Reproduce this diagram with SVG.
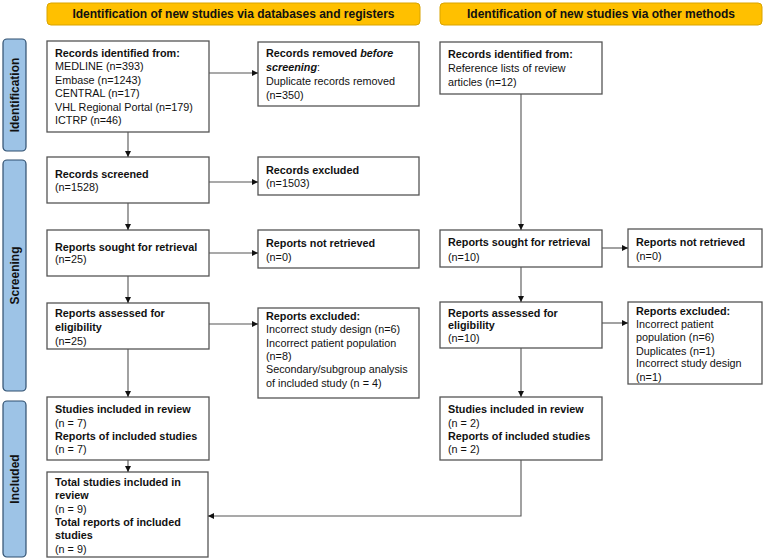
<svg xmlns="http://www.w3.org/2000/svg" width="764" height="560" viewBox="0 0 764 560">
<style>
text{font-family:"Liberation Sans",Arial,sans-serif;font-size:10.8px;fill:#111}
.b{font-weight:bold}
.hd{font-weight:bold;font-size:12px;text-anchor:middle}
.sd{font-weight:bold;font-size:12px;text-anchor:middle}
.box{fill:#fff;stroke:#555;stroke-width:1.3}
.hdr{fill:#FFC000;stroke:#D9A400;stroke-width:1}
.side{fill:#9DC3E6;stroke:#2F4F6F;stroke-width:1.2}
.c{fill:none;stroke:#555;stroke-width:1.1}
</style>
<defs>
<marker id="ah" viewBox="0 0 10 10" refX="10" refY="5" markerWidth="6" markerHeight="6" orient="auto" markerUnits="userSpaceOnUse">
<path d="M0,0 L10,5 L0,10 z" fill="#111"/>
</marker>
</defs>
<rect width="764" height="560" fill="#fff"/>

<g id="header1"><rect class="hdr" x="47" y="3" width="373" height="22" rx="4"/><text class="hd" x="233.5" y="18">Identification of new studies via databases and registers</text></g>
<g id="header2"><rect class="hdr" x="440" y="3" width="322" height="22" rx="4"/><text class="hd" x="601" y="18">Identification of new studies via other methods</text></g>

<g id="side-identification"><rect class="side" x="3" y="39" width="23" height="112" rx="4"/><text class="sd" transform="translate(19,95) rotate(-90)">Identification</text></g>
<g id="side-screening"><rect class="side" x="3" y="160" width="23" height="231" rx="4"/><text class="sd" transform="translate(19,275.5) rotate(-90)">Screening</text></g>
<g id="side-included"><rect class="side" x="3" y="401" width="23" height="156" rx="4"/><text class="sd" transform="translate(19,479) rotate(-90)">Included</text></g>

<g id="records-identified"><rect class="box" x="47" y="41" width="162" height="91"/>
<text x="55" y="57" class="b">Records identified from:</text>
<text x="55" y="70">MEDLINE (n=393)</text>
<text x="55" y="83.5">Embase (n=1243)</text>
<text x="55" y="97">CENTRAL (n=17)</text>
<text x="55" y="110.5">VHL Regional Portal (n=179)</text>
<text x="55" y="124">ICTRP (n=46)</text></g>

<g id="records-removed"><rect class="box" x="258" y="42" width="161" height="64"/>
<text x="266" y="57" class="b">Records removed <tspan font-style="italic">before</tspan></text>
<text x="266" y="71"><tspan class="b" font-style="italic">screening</tspan>:</text>
<text x="266" y="85">Duplicate records removed</text>
<text x="266" y="99">(n=350)</text></g>

<g id="other-records-identified"><rect class="box" x="440" y="42" width="162" height="52"/>
<text x="448" y="58" class="b">Records identified from:</text>
<text x="448" y="72">Reference lists of review</text>
<text x="448" y="86">articles (n=12)</text></g>

<g id="records-screened"><rect class="box" x="47" y="157" width="162" height="46"/>
<text x="55" y="178" class="b">Records screened</text>
<text x="55" y="191">(n=1528)</text></g>

<g id="records-excluded"><rect class="box" x="258" y="157" width="161" height="38"/>
<text x="266" y="174" class="b">Records excluded</text>
<text x="266" y="187">(n=1503)</text></g>

<g id="reports-sought"><rect class="box" x="47" y="230" width="162" height="46"/>
<text x="55" y="251" class="b">Reports sought for retrieval</text>
<text x="55" y="263">(n=25)</text></g>

<g id="reports-not-retrieved"><rect class="box" x="258" y="230" width="161" height="38"/>
<text x="266" y="247" class="b">Reports not retrieved</text>
<text x="266" y="261">(n=0)</text></g>

<g id="reports-assessed"><rect class="box" x="47" y="303" width="162" height="46"/>
<text x="55" y="317" class="b">Reports assessed for</text>
<text x="55" y="331" class="b">eligibility</text>
<text x="55" y="345">(n=25)</text></g>

<g id="reports-excluded"><rect class="box" x="258" y="308" width="161" height="90"/>
<text x="266" y="320" class="b">Reports excluded:</text>
<text x="266" y="333">Incorrect study design (n=6)</text>
<text x="266" y="347">Incorrect patient population</text>
<text x="266" y="360">(n=8)</text>
<text x="266" y="373">Secondary/subgroup analysis</text>
<text x="266" y="387">of included study (n = 4)</text></g>

<g id="studies-included"><rect class="box" x="47" y="397" width="162" height="63"/>
<text x="55" y="413" class="b">Studies included in review</text>
<text x="55" y="427">(n = 7)</text>
<text x="55" y="440" class="b">Reports of included studies</text>
<text x="55" y="453">(n = 7)</text></g>

<g id="total-included"><rect class="box" x="47" y="472" width="161" height="85"/>
<text x="55" y="486" class="b">Total studies included in</text>
<text x="55" y="499" class="b">review</text>
<text x="55" y="513">(n = 9)</text>
<text x="55" y="526" class="b">Total reports of included</text>
<text x="55" y="539" class="b">studies</text>
<text x="55" y="553">(n = 9)</text></g>

<g id="other-reports-sought"><rect class="box" x="440" y="230" width="162" height="37"/>
<text x="448" y="246" class="b">Reports sought for retrieval</text>
<text x="448" y="261">(n=10)</text></g>

<g id="other-reports-not-retrieved"><rect class="box" x="628" y="229" width="134" height="38"/>
<text x="636" y="246" class="b">Reports not retrieved</text>
<text x="636" y="260">(n=0)</text></g>

<g id="other-reports-assessed"><rect class="box" x="440" y="302" width="162" height="46"/>
<text x="448" y="317" class="b">Reports assessed for</text>
<text x="448" y="329" class="b">eligibility</text>
<text x="448" y="342">(n=10)</text></g>

<g id="other-reports-excluded"><rect class="box" x="628" y="302" width="134" height="82"/>
<text x="636" y="315" class="b">Reports excluded:</text>
<text x="636" y="328">Incorrect patient</text>
<text x="636" y="341">population (n=6)</text>
<text x="636" y="355">Duplicates (n=1)</text>
<text x="636" y="367">Incorrect study design</text>
<text x="636" y="381">(n=1)</text></g>

<g id="other-studies-included"><rect class="box" x="440" y="397" width="162" height="63"/>
<text x="448" y="413" class="b">Studies included in review</text>
<text x="448" y="427">(n = 2)</text>
<text x="448" y="440" class="b">Reports of included studies</text>
<text x="448" y="453">(n = 2)</text></g>

<g id="connectors">
<path class="c" d="M209,73 H258" marker-end="url(#ah)"/>
<path class="c" d="M128,132 V157" marker-end="url(#ah)"/>
<path class="c" d="M209,182 H258" marker-end="url(#ah)"/>
<path class="c" d="M128,203 V230" marker-end="url(#ah)"/>
<path class="c" d="M209,253 H258" marker-end="url(#ah)"/>
<path class="c" d="M128,276 V303" marker-end="url(#ah)"/>
<path class="c" d="M209,324 H258" marker-end="url(#ah)"/>
<path class="c" d="M128,349 V397" marker-end="url(#ah)"/>
<path class="c" d="M128,460 V472" marker-end="url(#ah)"/>
<path class="c" d="M521,94 V230" marker-end="url(#ah)"/>
<path class="c" d="M602,248 H628" marker-end="url(#ah)"/>
<path class="c" d="M521,267 V302" marker-end="url(#ah)"/>
<path class="c" d="M602,323 H628" marker-end="url(#ah)"/>
<path class="c" d="M521,348 V397" marker-end="url(#ah)"/>
<path class="c" d="M521,460 V516 H208" marker-end="url(#ah)"/>
</g>
</svg>
